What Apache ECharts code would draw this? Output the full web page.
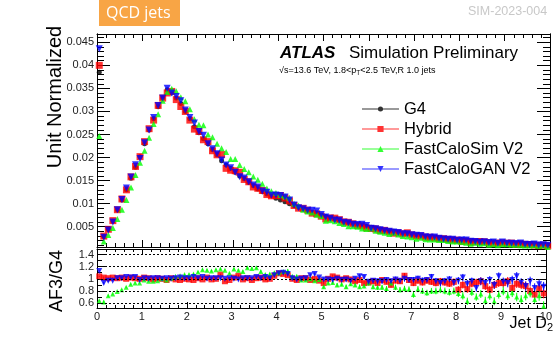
<!DOCTYPE html>
<html>
<head>
<meta charset="utf-8">
<script src="https://cdn.jsdelivr.net/npm/echarts@6/dist/echarts.min.js"></script>
<style>
html, body { margin: 0; padding: 0; background: #fff; }
#chart { width: 555px; height: 338px; }
</style>
</head>
<body>
<div id="chart"></div>
<script>
// Jet D2 histogram, 100 bins of 0.1 from 0 to 10
var binStart = 0, binWidth = 0.1;

var g4 = [0.0385, 0.0029, 0.0044, 0.0062, 0.0086, 0.0108, 0.0130, 0.0155, 0.0179, 0.0202,
    0.0230, 0.0260, 0.0284, 0.0310, 0.0329, 0.0347, 0.0340, 0.0329, 0.0317, 0.0300,
    0.0284, 0.0267, 0.0254, 0.0241, 0.0230, 0.0217, 0.0206, 0.0193, 0.0184, 0.0176,
    0.0168, 0.0160, 0.0154, 0.0146, 0.0139, 0.0132, 0.0126, 0.0121, 0.0117, 0.0112,
    0.0108, 0.0104, 0.0100, 0.0096, 0.0092, 0.0089, 0.0085, 0.0081, 0.0078, 0.0075,
    0.0072, 0.0069, 0.0066, 0.0064, 0.0061, 0.0059, 0.0057, 0.0055, 0.0053, 0.0051,
    0.0049, 0.0047, 0.0045, 0.0043, 0.0041, 0.0040, 0.0038, 0.0036, 0.0035, 0.0033,
    0.0032, 0.0031, 0.0029, 0.0028, 0.0027, 0.0026, 0.0025, 0.0024, 0.0023, 0.0022,
    0.0022, 0.0021, 0.0020, 0.0019, 0.0019, 0.0018, 0.0017, 0.0017, 0.0016, 0.0016,
    0.0015, 0.0015, 0.0014, 0.0014, 0.0013, 0.0013, 0.0013, 0.0012, 0.0012, 0.0011];

var hybrid = [0.0400, 0.00296, 0.00444, 0.00632, 0.00869, 0.01102, 0.01300, 0.01581, 0.01808, 0.02020,
    0.02346, 0.02626, 0.02812, 0.03131, 0.03290, 0.03401, 0.03434, 0.03257, 0.03107, 0.03000,
    0.02812, 0.02617, 0.02565, 0.02386, 0.02346, 0.02148, 0.02060, 0.02065, 0.01766, 0.01725,
    0.01714, 0.01680, 0.01525, 0.01475, 0.01362, 0.01333, 0.01285, 0.01198, 0.01170, 0.01176,
    0.01177, 0.01123, 0.01060, 0.00960, 0.00902, 0.00899, 0.00859, 0.00794, 0.00780, 0.00728,
    0.00670, 0.00690, 0.00686, 0.00653, 0.00604, 0.00596, 0.00564, 0.00528, 0.00519, 0.00474,
    0.00461, 0.00451, 0.00419, 0.00421, 0.00390, 0.00360, 0.00369, 0.00346, 0.00368, 0.00323,
    0.00298, 0.00301, 0.00273, 0.00272, 0.00257, 0.00242, 0.00240, 0.00226, 0.00212, 0.00209,
    0.00180, 0.00189, 0.00166, 0.00175, 0.00179, 0.00173, 0.00150, 0.00139, 0.00144, 0.00149,
    0.00140, 0.00144, 0.00119, 0.00129, 0.00117, 0.00114, 0.00104, 0.00089, 0.00101, 0.00084];

var fcs = [0.0247, 0.0018, 0.0032, 0.0047, 0.0067, 0.0087, 0.0108, 0.0135, 0.0162, 0.0189,
    0.0215, 0.0243, 0.0273, 0.0294, 0.0323, 0.0342, 0.0349, 0.0344, 0.0331, 0.0322,
    0.0305, 0.0283, 0.0271, 0.0270, 0.0250, 0.0244, 0.0230, 0.0220, 0.0212, 0.0197,
    0.0197, 0.0184, 0.0175, 0.0168, 0.0159, 0.0152, 0.0143, 0.0133, 0.0127, 0.0123,
    0.0119, 0.0116, 0.0113, 0.0100, 0.0096, 0.0087, 0.0083, 0.0081, 0.0076, 0.0073,
    0.0063, 0.0064, 0.0062, 0.0058, 0.0056, 0.0051, 0.0051, 0.0050, 0.0046, 0.0045,
    0.0046, 0.0041, 0.0039, 0.0037, 0.0034, 0.0037, 0.0033, 0.0030, 0.0029, 0.0027,
    0.0024, 0.0026, 0.0023, 0.0022, 0.0022, 0.0021, 0.0021, 0.0019, 0.0018, 0.0018,
    0.0017, 0.0015, 0.0013, 0.0015, 0.0013, 0.0014, 0.0011, 0.0012, 0.0010, 0.0012,
    0.0012, 0.0011, 0.0011, 0.0010, 0.0009, 0.0009, 0.0010, 0.0008, 0.0009, 0.0006];

var gan = [0.0436, 0.00270, 0.00427, 0.00601, 0.00869, 0.01091, 0.01339, 0.01581, 0.01844, 0.01980,
    0.02323, 0.02600, 0.02868, 0.03131, 0.03290, 0.03505, 0.03400, 0.03323, 0.03233, 0.03030,
    0.02868, 0.02750, 0.02565, 0.02482, 0.02300, 0.02192, 0.02081, 0.01949, 0.01840, 0.01778,
    0.01680, 0.01584, 0.01555, 0.01475, 0.01404, 0.01360, 0.01273, 0.01246, 0.01182, 0.01187,
    0.01177, 0.01144, 0.01080, 0.00970, 0.00911, 0.00890, 0.00859, 0.00859, 0.00842, 0.00765,
    0.00713, 0.00683, 0.00647, 0.00640, 0.00598, 0.00584, 0.00553, 0.00550, 0.00551, 0.00525,
    0.00466, 0.00456, 0.00432, 0.00413, 0.00402, 0.00384, 0.00376, 0.00349, 0.00350, 0.00323,
    0.00314, 0.00310, 0.00281, 0.00274, 0.00278, 0.00250, 0.00233, 0.00230, 0.00228, 0.00207,
    0.00213, 0.00214, 0.00184, 0.00182, 0.00162, 0.00173, 0.00158, 0.00167, 0.00144, 0.00166,
    0.00143, 0.00140, 0.00137, 0.00146, 0.00122, 0.00114, 0.00125, 0.00102, 0.00109, 0.00096];

// AF3/G4 ratio panel
var ratioHybrid = [1.04, 1.02, 1.01, 1.02, 1.01, 1.02, 1.00, 1.02, 1.01, 1.00,
    1.02, 1.01, 0.99, 1.01, 1.00, 0.98, 1.01, 0.99, 0.98, 1.00,
    0.99, 0.98, 1.01, 0.99, 1.02, 0.99, 1.00, 1.07, 0.96, 0.98,
    1.02, 1.05, 0.99, 1.01, 0.98, 1.01, 1.02, 0.99, 1.00, 1.05,
    1.09, 1.08, 1.06, 1.00, 0.98, 1.01, 1.01, 0.98, 1.00, 0.97,
    0.93, 1.00, 1.04, 1.02, 0.99, 1.01, 0.99, 0.96, 0.98, 0.93,
    0.94, 0.96, 0.93, 0.98, 0.95, 0.90, 0.97, 0.96, 1.05, 0.98,
    0.93, 0.97, 0.94, 0.97, 0.95, 0.93, 0.96, 0.94, 0.92, 0.95,
    0.82, 0.90, 0.83, 0.92, 0.94, 0.96, 0.88, 0.82, 0.90, 0.93,
    0.93, 0.96, 0.85, 0.92, 0.90, 0.88, 0.80, 0.74, 0.84, 0.76];

var ratioFcs = [0.64, 0.62, 0.72, 0.75, 0.79, 0.82, 0.86, 0.91, 0.93, 0.93,
    0.98, 0.96, 0.96, 0.97, 1.00, 0.98, 1.01, 1.04, 1.05, 1.07,
    1.07, 1.08, 1.11, 1.15, 1.14, 1.13, 1.15, 1.16, 1.14, 1.09,
    1.16, 1.14, 1.12, 1.18, 1.17, 1.18, 1.12, 1.07, 1.08, 1.10,
    1.10, 1.12, 1.13, 1.04, 1.04, 0.98, 0.98, 1.00, 0.97, 0.99,
    0.87, 0.93, 0.94, 0.90, 0.91, 0.87, 0.92, 0.90, 0.87, 0.88,
    0.93, 0.87, 0.86, 0.86, 0.84, 0.93, 0.86, 0.82, 0.84, 0.83,
    0.74, 0.83, 0.80, 0.77, 0.80, 0.80, 0.82, 0.80, 0.78, 0.80,
    0.76, 0.72, 0.63, 0.78, 0.70, 0.75, 0.64, 0.72, 0.63, 0.74,
    0.80, 0.72, 0.77, 0.70, 0.66, 0.72, 0.77, 0.66, 0.72, 0.55];

var ratioGan = [1.13, 0.93, 0.97, 0.97, 1.01, 1.01, 1.03, 1.02, 1.03, 0.98,
    1.01, 1.00, 1.01, 1.01, 1.00, 1.01, 1.00, 1.01, 1.02, 1.01,
    1.01, 1.03, 1.01, 1.03, 1.00, 1.01, 1.01, 1.01, 1.00, 1.01,
    1.00, 0.99, 1.01, 1.01, 1.01, 1.03, 1.01, 1.03, 1.01, 1.06,
    1.09, 1.10, 1.08, 1.01, 0.99, 1.00, 1.01, 1.06, 1.08, 1.02,
    0.99, 0.99, 0.98, 1.00, 0.98, 0.99, 0.97, 1.00, 1.04, 1.03,
    0.95, 0.97, 0.96, 0.96, 0.98, 0.96, 0.99, 0.97, 1.00, 0.98,
    0.98, 1.00, 0.97, 0.98, 1.03, 0.96, 0.93, 0.96, 0.99, 0.94,
    0.97, 1.02, 0.92, 0.96, 0.85, 0.96, 0.93, 0.98, 0.90, 1.04,
    0.95, 0.93, 0.98, 1.04, 0.94, 0.88, 0.96, 0.85, 0.91, 0.87];

var ratioErr = [0.01, 0.02, 0.02, 0.01, 0.01, 0.01, 0.01, 0.01, 0.01, 0.01,
    0.01, 0.01, 0.01, 0.01, 0.01, 0.01, 0.01, 0.01, 0.01, 0.01,
    0.015, 0.015, 0.015, 0.015, 0.015, 0.015, 0.015, 0.015, 0.015, 0.015,
    0.02, 0.02, 0.02, 0.02, 0.02, 0.02, 0.02, 0.02, 0.02, 0.02,
    0.025, 0.025, 0.025, 0.025, 0.025, 0.025, 0.025, 0.025, 0.025, 0.025,
    0.03, 0.03, 0.03, 0.03, 0.03, 0.035, 0.035, 0.035, 0.035, 0.035,
    0.04, 0.04, 0.04, 0.04, 0.04, 0.045, 0.045, 0.045, 0.045, 0.045,
    0.05, 0.05, 0.05, 0.05, 0.05, 0.055, 0.055, 0.055, 0.055, 0.055,
    0.06, 0.06, 0.06, 0.06, 0.06, 0.065, 0.065, 0.065, 0.065, 0.065,
    0.07, 0.07, 0.07, 0.07, 0.07, 0.075, 0.075, 0.075, 0.08, 0.08];

var mainLabels = [0.005, 0.01, 0.015, 0.02, 0.025, 0.03, 0.035, 0.04, 0.045];
var ratioLabels = [0.6, 0.8, 1, 1.2, 1.4];
var ratioLines = [0.6, 0.8, 1, 1.2, 1.4];

var mainMinor = [];
for (var k = 1; k <= 46; k++) mainMinor.push(+(k * 0.001).toFixed(3));
var ratioMinor = [];
for (var k = 5; k <= 14; k++) ratioMinor.push(+(k * 0.1).toFixed(1));

function toPoints(arr) {
    return arr.map(function (v, i) {
        return [binStart + binWidth * (i + 0.5), v];
    });
}
function toErrs(arr) {
    return arr.map(function (v, i) {
        return [binStart + binWidth * (i + 0.5), v, ratioErr[i]];
    });
}

var black = '#000';
var fontFam = 'Liberation Sans';

function xAx(grid, pos, labels) {
    return {
        type: 'value', gridIndex: grid, position: pos, min: 0, max: 10, interval: 1,
        axisLine: { show: true, onZero: false, lineStyle: { color: black, width: 1 } },
        axisTick: { inside: true, length: grid === 0 ? 7 : 6, lineStyle: { color: black } },
        minorTick: { show: true, splitNumber: 5, length: grid === 0 ? 4 : 3, lineStyle: { color: black } },
        axisLabel: { show: labels, color: '#222', fontSize: 11, margin: 3, fontFamily: fontFam },
        splitLine: { show: false }
    };
}
function yAx(grid, pos, min, max, ticks, len, labels) {
    return {
        type: 'value', gridIndex: grid, position: pos, min: min, max: max,
        axisLine: { show: true, onZero: false, lineStyle: { color: black, width: 1 } },
        axisTick: { inside: true, length: len, customValues: ticks, lineStyle: { color: black } },
        axisLabel: { show: labels, customValues: ticks, color: '#222', fontSize: 11, margin: 3, fontFamily: fontFam },
        splitLine: { show: false }
    };
}

function errSeries(name, arr, color) {
    return {
        name: name, type: 'custom', xAxisIndex: 2, yAxisIndex: 4, clip: true, z: 2,
        data: toErrs(arr),
        renderItem: function (params, api) {
            var x = api.value(0), y = api.value(1), e = api.value(2);
            var p1 = api.coord([x, y - e]);
            var p2 = api.coord([x, y + e]);
            return {
                type: 'line',
                shape: { x1: p1[0], y1: p1[1], x2: p2[0], y2: p2[1] },
                style: { stroke: color, lineWidth: 1 }
            };
        }
    };
}

var myChart = echarts.init(document.getElementById('chart'));

var option = {
    animation: false,
    textStyle: { fontFamily: fontFam },
    grid: [
        { left: 97, right: 5, top: 34, height: 213 },
        { left: 97, right: 5, top: 249, height: 59 }
    ],
    xAxis: [
        xAx(0, 'bottom', false),
        xAx(0, 'top', false),
        xAx(1, 'bottom', true),
        xAx(1, 'top', false)
    ],
    yAxis: [
        yAx(0, 'left', 0.0006, 0.0468, mainLabels, 13, true),
        yAx(0, 'left', 0.0006, 0.0468, mainMinor, 7, false),
        yAx(0, 'right', 0.0006, 0.0468, mainLabels, 13, false),
        yAx(0, 'right', 0.0006, 0.0468, mainMinor, 7, false),
        yAx(1, 'left', 0.52, 1.49, ratioLabels, 10, true),
        yAx(1, 'left', 0.52, 1.49, ratioMinor, 5, false),
        yAx(1, 'right', 0.52, 1.49, ratioLabels, 10, false),
        yAx(1, 'right', 0.52, 1.49, ratioMinor, 5, false)
    ],
    legend: {
        orient: 'vertical',
        left: 357,
        top: 94,
        itemWidth: 37,
        itemHeight: 6,
        itemGap: 0,
        symbolKeepAspect: false,
        textStyle: { fontSize: 16.5, color: '#000', lineHeight: 20, fontFamily: fontFam },
        data: [
            { name: 'G4', icon: 'path://M0,2.5H36V3.5H0Z M15.5,3A2.5,2.5 0 1 1 20.5,3A2.5,2.5 0 1 1 15.5,3Z M18,0V6' },
            { name: 'Hybrid', icon: 'path://M0,2.5H36V3.5H0Z M15,0H21V6H15Z' },
            { name: 'FastCaloSim V2', icon: 'path://M0,2.5H36V3.5H0Z M15,6L18,0L21,6Z' },
            { name: 'FastCaloGAN V2', icon: 'path://M0,2.5H36V3.5H0Z M15,0L21,0L18,6Z' }
        ]
    },
    graphic: [
        { type: 'rect', shape: { x: 99, y: 0, width: 81, height: 26 }, style: { fill: '#f8a545' } },
        { type: 'text', x: 106, y: 13, style: { text: 'QCD jets', fill: '#fff', fontSize: 16, fontFamily: 'Open Sans', verticalAlign: 'middle' } },
        { type: 'text', x: 468, y: 12, style: { text: 'SIM-2023-004', fill: '#c8c8c8', fontSize: 12.5, fontFamily: fontFam, verticalAlign: 'middle' } },
        { type: 'text', x: 280, y: 53, style: { text: 'ATLAS', fill: '#000', fontSize: 17, fontWeight: 'bold', fontStyle: 'italic', fontFamily: fontFam, verticalAlign: 'middle' } },
        { type: 'text', x: 349, y: 53, style: { text: 'Simulation Preliminary', fill: '#000', fontSize: 17, fontFamily: fontFam, verticalAlign: 'middle' } },
        { type: 'text', x: 279, y: 71, style: {
            text: '√s=13.6 TeV, 1.8<p{s|T}<2.5 TeV,R 1.0 jets', fill: '#000', fontSize: 9, fontFamily: fontFam, verticalAlign: 'middle',
            rich: { s: { fontSize: 6.5, padding: [5, 0, 0, 0], fill: '#000' } }
        } },
        { type: 'text', x: 55, y: 97, rotation: Math.PI / 2, style: { text: 'Unit Normalized', fill: '#000', fontSize: 20, fontFamily: fontFam, align: 'center', verticalAlign: 'middle' } },
        { type: 'text', x: 57, y: 281, rotation: Math.PI / 2, style: { text: 'AF3/G4', fill: '#000', fontSize: 18, fontFamily: fontFam, align: 'center', verticalAlign: 'middle' } },
        { type: 'text', x: 553, y: 324, style: {
            text: 'Jet D{s|2}', fill: '#000', fontSize: 16, fontFamily: fontFam, align: 'right', verticalAlign: 'middle',
            rich: { s: { fontSize: 11, padding: [8, 0, 0, 0], fill: '#000' } }
        } }
    ],
    series: [
        { name: 'G4', type: 'scatter', xAxisIndex: 0, yAxisIndex: 0, data: toPoints(g4), symbol: 'circle', symbolSize: 5, itemStyle: { color: black }, z: 3 },
        { name: 'Hybrid', type: 'scatter', xAxisIndex: 0, yAxisIndex: 0, data: toPoints(hybrid), symbol: 'rect', symbolSize: 7, itemStyle: { color: '#ff0000' }, z: 3 },
        { name: 'FastCaloSim V2', type: 'scatter', xAxisIndex: 0, yAxisIndex: 0, data: toPoints(fcs), symbol: 'triangle', symbolSize: 6, itemStyle: { color: '#00ff00' }, z: 3 },
        { name: 'FastCaloGAN V2', type: 'scatter', xAxisIndex: 0, yAxisIndex: 0, data: toPoints(gan), symbol: 'triangle', symbolRotate: 180, symbolSize: 7, itemStyle: { color: '#0000ff' }, z: 3 },
        {
            name: 'ref', type: 'scatter', xAxisIndex: 2, yAxisIndex: 4, data: [], z: 1,
            markLine: {
                silent: true, symbol: 'none', label: { show: false }, animation: false,
                lineStyle: { color: black, type: [2, 2], width: 1 },
                data: ratioLines.map(function (v) { return { yAxis: v }; })
            }
        },
        errSeries('Hybrid', ratioHybrid, '#ff0000'),
        { name: 'Hybrid', type: 'scatter', xAxisIndex: 2, yAxisIndex: 4, data: toPoints(ratioHybrid), symbol: 'rect', symbolSize: 6, itemStyle: { color: '#ff0000' }, z: 3 },
        errSeries('FastCaloSim V2', ratioFcs, '#00ff00'),
        { name: 'FastCaloSim V2', type: 'scatter', xAxisIndex: 2, yAxisIndex: 4, data: toPoints(ratioFcs), symbol: 'triangle', symbolSize: 5, itemStyle: { color: '#00ff00' }, z: 3 },
        errSeries('FastCaloGAN V2', ratioGan, '#0000ff'),
        { name: 'FastCaloGAN V2', type: 'scatter', xAxisIndex: 2, yAxisIndex: 4, data: toPoints(ratioGan), symbol: 'triangle', symbolRotate: 180, symbolSize: 6, itemStyle: { color: '#0000ff' }, z: 3 }
    ]
};

myChart.setOption(option);
</script>
</body>
</html>
